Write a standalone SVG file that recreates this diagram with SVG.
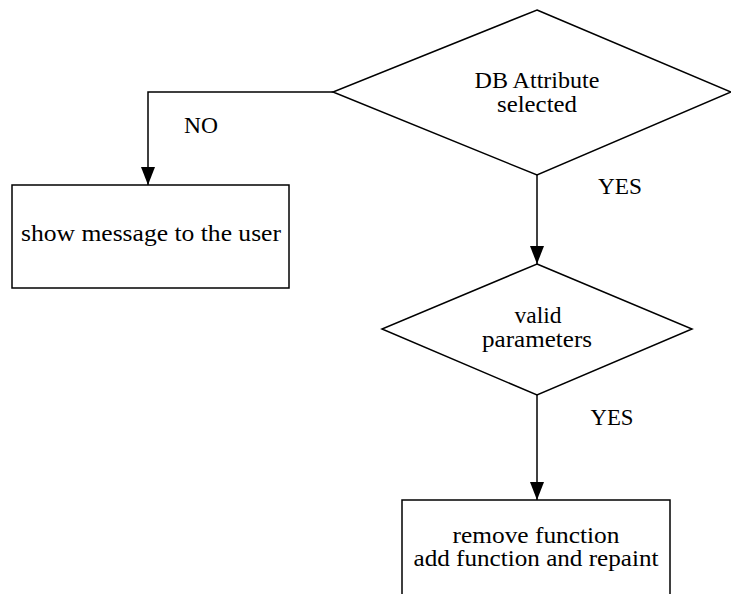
<svg xmlns="http://www.w3.org/2000/svg" width="731" height="594" viewBox="0 0 731 594">
  <style>
    .shape { fill: #ffffff; stroke: #000000; stroke-width: 1.5; }
    .edge { fill: none; stroke: #000000; stroke-width: 1.5; }
    .label { font-family: "Times New Roman", "Liberation Serif", Tinos, Times, serif; font-size: 23px; fill: #000000; text-anchor: middle; }
  </style>
  <defs>
    <marker id="arrow" viewBox="0 0 18 14" refX="18" refY="7" markerWidth="18" markerHeight="14" markerUnits="userSpaceOnUse" orient="auto">
      <path d="M0,0 L18,7 L0,14 Z" fill="#000000"/>
    </marker>
  </defs>
  <rect width="731" height="594" fill="#ffffff"/>

  <g id="connectors">
    <polyline class="edge" points="333,92 148,92 148,185" marker-end="url(#arrow)"/>
    <line class="edge" x1="537" y1="175" x2="537" y2="264" marker-end="url(#arrow)"/>
    <line class="edge" x1="537" y1="395" x2="537" y2="500" marker-end="url(#arrow)"/>
    <text class="label" x="201" y="133" textLength="34" lengthAdjust="spacingAndGlyphs">NO</text>
    <text class="label" x="620" y="194" textLength="44" lengthAdjust="spacingAndGlyphs">YES</text>
    <text class="label" x="612" y="425" textLength="43" lengthAdjust="spacingAndGlyphs">YES</text>
  </g>

  <g id="db-attribute-selected">
    <polygon class="shape" points="537,10 731,92 537,175 333,92"/>
    <text class="label" x="537" y="88" textLength="125" lengthAdjust="spacingAndGlyphs">DB Attribute</text>
    <text class="label" x="537" y="112" textLength="80" lengthAdjust="spacingAndGlyphs">selected</text>
  </g>

  <g id="show-message">
    <rect class="shape" x="12" y="185" width="277" height="103"/>
    <text class="label" x="151" y="241" textLength="260" lengthAdjust="spacingAndGlyphs">show message to the user</text>
  </g>

  <g id="valid-parameters">
    <polygon class="shape" points="537,264 692,329 537,395 382,329"/>
    <text class="label" x="538" y="323" textLength="47" lengthAdjust="spacingAndGlyphs">valid</text>
    <text class="label" x="537" y="347" textLength="110" lengthAdjust="spacingAndGlyphs">parameters</text>
  </g>

  <g id="remove-add-function">
    <rect class="shape" x="402" y="500" width="268" height="110"/>
    <text class="label" x="536" y="543" textLength="167" lengthAdjust="spacingAndGlyphs">remove function</text>
    <text class="label" x="536" y="566" textLength="245" lengthAdjust="spacingAndGlyphs">add function and repaint</text>
  </g>
</svg>
